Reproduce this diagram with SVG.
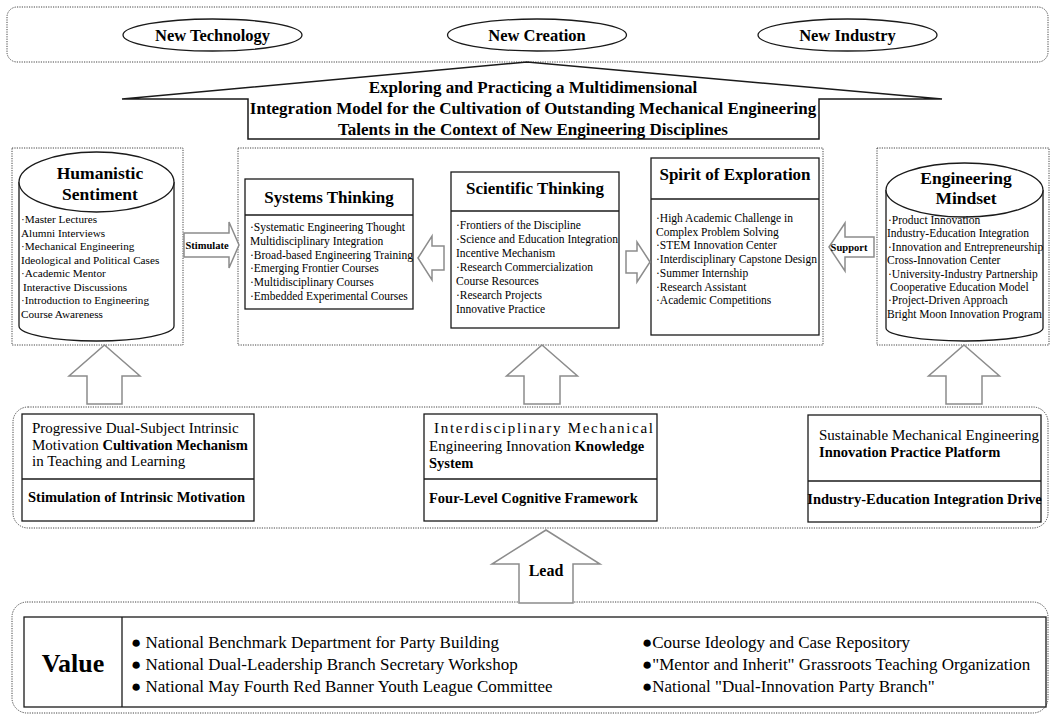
<svg xmlns="http://www.w3.org/2000/svg" width="1053" height="717" viewBox="0 0 1053 717">
<style>
.bg{fill:#fff}
.dot{fill:none;stroke:#444;stroke-width:1;stroke-dasharray:1.2 1.2}
.box{fill:#fff;stroke:#1a1a1a;stroke-width:1.3}
.ln{stroke:#1a1a1a;stroke-width:1.3;fill:none}
.arr{fill:#fff;stroke:#8c8c8c;stroke-width:1.5;stroke-linejoin:miter}
.t{font-family:"Liberation Serif","Times New Roman",serif;fill:#000}
.b{font-weight:bold}
.li{font-size:11.5px}
.ttl{font-size:17px;font-weight:bold}
.r3{font-size:15px}
.r3b{font-size:14.5px;font-weight:bold}
.val{font-size:17px}
</style>
<rect class="bg" x="0" y="0" width="1053" height="717"/>

<g id="top-frame">
<rect class="dot" x="7" y="7" width="1041" height="55" rx="10"/>
</g>
<g id="node-new-technology">
<ellipse cx="212.5" cy="35" rx="89.5" ry="16" fill="#fff" stroke="#1a1a1a" stroke-width="1.3"/>
<text class="t b" x="212.5" y="40.5" font-size="16.5" text-anchor="middle">New Technology</text>
</g>
<g id="node-new-creation">
<ellipse cx="537" cy="35" rx="89.5" ry="16" fill="#fff" stroke="#1a1a1a" stroke-width="1.3"/>
<text class="t b" x="537" y="40.5" font-size="16.5" text-anchor="middle">New Creation</text>
</g>
<g id="node-new-industry">
<ellipse cx="847.5" cy="35" rx="89.5" ry="16" fill="#fff" stroke="#1a1a1a" stroke-width="1.3"/>
<text class="t b" x="847.5" y="40.5" font-size="16.5" text-anchor="middle">New Industry</text>
</g>

<g id="node-banner">
<polygon points="527,62 122,99 248,99 248,139 819,139 819,99 942,99" fill="#fff" stroke="#1a1a1a" stroke-width="1.5"/>
<text class="t b" font-size="17" text-anchor="middle"><tspan x="533" y="93">Exploring and Practicing a Multidimensional</tspan><tspan x="533" y="114">Integration Model for the Cultivation of Outstanding Mechanical Engineering</tspan><tspan x="533" y="135">Talents in the Context of New Engineering Disciplines</tspan></text>
</g>

<g id="frames">
<rect class="dot" x="12" y="148" width="171" height="197"/>
<rect class="dot" x="238" y="148" width="585" height="197"/>
<rect class="dot" x="877" y="148" width="172" height="197"/>
<rect class="dot" x="13" y="407" width="1035" height="121" rx="15"/>
<rect class="dot" x="12" y="602" width="1036" height="111" rx="15"/>
</g>

<g id="node-humanistic">
<path d="M19,182 L19,326 A77.5,15 0 0 0 174,326 L174,182" fill="#fff" stroke="#1a1a1a" stroke-width="1.3"/>
<ellipse cx="96.5" cy="182" rx="77.5" ry="30" fill="#fff" stroke="#1a1a1a" stroke-width="1.3"/>
<text class="t b" font-size="17.5" text-anchor="middle"><tspan x="100" y="179">Humanistic</tspan><tspan x="100" y="200">Sentiment</tspan></text>
<text class="t" font-size="11.2"><tspan x="21" y="223">·Master Lectures</tspan><tspan x="21" y="236.5">Alumni Interviews</tspan><tspan x="21" y="250">·Mechanical Engineering</tspan><tspan x="21" y="263.5">Ideological and Political Cases</tspan><tspan x="21" y="277">·Academic Mentor</tspan><tspan x="23" y="290.5">Interactive Discussions</tspan><tspan x="21" y="304">·Introduction to Engineering</tspan><tspan x="21" y="317.5">Course Awareness</tspan></text>
</g>

<g id="node-systems">
<rect class="box" x="245" y="179" width="168" height="130"/>
<line class="ln" x1="245" y1="215" x2="413" y2="215"/>
<text class="t ttl" x="329" y="203" text-anchor="middle">Systems Thinking</text>
<text class="t li"><tspan x="250" y="231">·Systematic Engineering Thought</tspan><tspan x="250" y="244.8">Multidisciplinary Integration</tspan><tspan x="250" y="258.6">·Broad-based Engineering Training</tspan><tspan x="250" y="272.4">·Emerging Frontier Courses</tspan><tspan x="250" y="286.2">·Multidisciplinary Courses</tspan><tspan x="250" y="300">·Embedded Experimental Courses</tspan></text>
</g>

<g id="node-scientific">
<rect class="box" x="451" y="172" width="168" height="156"/>
<line class="ln" x1="451" y1="211" x2="619" y2="211"/>
<text class="t ttl" x="535" y="194" text-anchor="middle">Scientific Thinking</text>
<text class="t li"><tspan x="456" y="229">·Frontiers of the Discipline</tspan><tspan x="456" y="243">·Science and Education Integration</tspan><tspan x="456" y="257">Incentive Mechanism</tspan><tspan x="456" y="271">·Research Commercialization</tspan><tspan x="456" y="285">Course Resources</tspan><tspan x="456" y="299">·Research Projects</tspan><tspan x="456" y="313">Innovative Practice</tspan></text>
</g>

<g id="node-spirit">
<rect class="box" x="651" y="158" width="168" height="177"/>
<line class="ln" x1="651" y1="199" x2="819" y2="199"/>
<text class="t ttl" x="735" y="180" text-anchor="middle">Spirit of Exploration</text>
<text class="t li"><tspan x="656" y="222">·High Academic Challenge in</tspan><tspan x="656" y="235.7">Complex Problem Solving</tspan><tspan x="656" y="249.4">·STEM Innovation Center</tspan><tspan x="656" y="263.1">·Interdisciplinary Capstone Design</tspan><tspan x="656" y="276.8">·Summer Internship</tspan><tspan x="656" y="290.5">·Research Assistant</tspan><tspan x="656" y="304.2">·Academic Competitions</tspan></text>
</g>

<g id="node-engineering">
<path d="M886,190 L886,328 A78.5,13 0 0 0 1043,328 L1043,190" fill="#fff" stroke="#1a1a1a" stroke-width="1.3"/>
<ellipse cx="964.5" cy="190" rx="78.5" ry="27" fill="#fff" stroke="#1a1a1a" stroke-width="1.3"/>
<text class="t b" font-size="17.5" text-anchor="middle"><tspan x="966" y="184">Engineering</tspan><tspan x="966" y="204">Mindset</tspan></text>
<text class="t li"><tspan x="888" y="224">·Product Innovation</tspan><tspan x="887" y="237.4">Industry-Education Integration</tspan><tspan x="888" y="250.8">·Innovation and Entrepreneurship</tspan><tspan x="887" y="264.2">Cross-Innovation Center</tspan><tspan x="888" y="277.6">·University-Industry Partnership</tspan><tspan x="890" y="291">Cooperative Education Model</tspan><tspan x="888" y="304.4">·Project-Driven Approach</tspan><tspan x="887" y="317.8">Bright Moon Innovation Program</tspan></text>
</g>

<g id="node-mechanism">
<rect class="box" x="22" y="414" width="232" height="107"/>
<line class="ln" x1="22" y1="479" x2="254" y2="479"/>
<text class="t r3"><tspan x="32" y="433">Progressive Dual-Subject Intrinsic</tspan><tspan x="32" y="449.5">Motivation <tspan class="r3b">Cultivation Mechanism</tspan></tspan><tspan x="32" y="466">in Teaching and Learning</tspan></text>
<text class="t r3b" x="28" y="502">Stimulation of Intrinsic Motivation</text>
</g>

<g id="node-knowledge">
<rect class="box" x="424" y="414" width="233" height="107"/>
<line class="ln" x1="424" y1="479" x2="657" y2="479"/>
<text class="t r3" x="434" y="433" textLength="219" lengthAdjust="spacing">Interdisciplinary Mechanical</text>
<text class="t r3" x="429" y="450.5">Engineering Innovation <tspan class="r3b">Knowledge</tspan></text>
<text class="t r3b" x="429" y="467.5">System</text>
<text class="t r3b" x="429" y="503">Four-Level Cognitive Framework</text>
</g>

<g id="node-platform">
<rect class="box" x="808" y="415" width="233" height="107"/>
<line class="ln" x1="808" y1="481" x2="1041" y2="481"/>
<text class="t r3" x="819" y="440">Sustainable Mechanical Engineering</text>
<text class="t r3b" x="819" y="457">Innovation Practice Platform</text>
<text class="t r3b" x="924.5" y="503.5" text-anchor="middle">Industry-Education Integration Drive</text>
</g>

<g id="node-value">
<rect class="box" x="24" y="617" width="1022" height="90"/>
<line class="ln" x1="122" y1="617" x2="122" y2="707"/>
<text class="t b" x="73" y="672" font-size="26" text-anchor="middle">Value</text>
<text class="t val"><tspan x="131" y="648">● National Benchmark Department for Party Building</tspan><tspan x="131" y="670">● National Dual-Leadership Branch Secretary Workshop</tspan><tspan x="131" y="692">● National May Fourth Red Banner Youth League Committee</tspan></text>
<text class="t val"><tspan x="642" y="648">●Course Ideology and Case Repository</tspan><tspan x="642" y="670">●"Mentor and Inherit" Grassroots Teaching Organization</tspan><tspan x="642" y="692">●National "Dual-Innovation Party Branch"</tspan></text>
</g>

<g id="connectors">
<polygon class="arr" points="184,233 229,233 229,222 239,245 229,268 229,257 184,257"/>
<text class="t b" x="207" y="249" font-size="10.5" text-anchor="middle">Stimulate</text>
<polygon class="arr" points="418,258 432,236 432,246 444,246 444,270 432,270 432,280"/>
<polygon class="arr" points="650,262 637,242 637,251 626,251 626,273 637,273 637,282"/>
<polygon class="arr" points="829,247 845,223 845,237 874,237 874,257 845,257 845,271"/>
<text class="t b" x="849" y="251" font-size="10.5" text-anchor="middle">Support</text>
<polygon class="arr" points="104.5,345 140,376 122,376 122,404 87,404 87,376 69,376"/>
<polygon class="arr" points="542,345 577.5,376 560,376 560,404 524,404 524,376 506.5,376"/>
<polygon class="arr" points="964,345 999.5,376 982,376 982,404 946,404 946,376 928.5,376"/>
<polygon class="arr" points="546,530 600,564 573,564 573,603 519,603 519,564 492,564"/>
<text class="t b" x="546" y="576" font-size="16" text-anchor="middle">Lead</text>
</g>
</svg>
